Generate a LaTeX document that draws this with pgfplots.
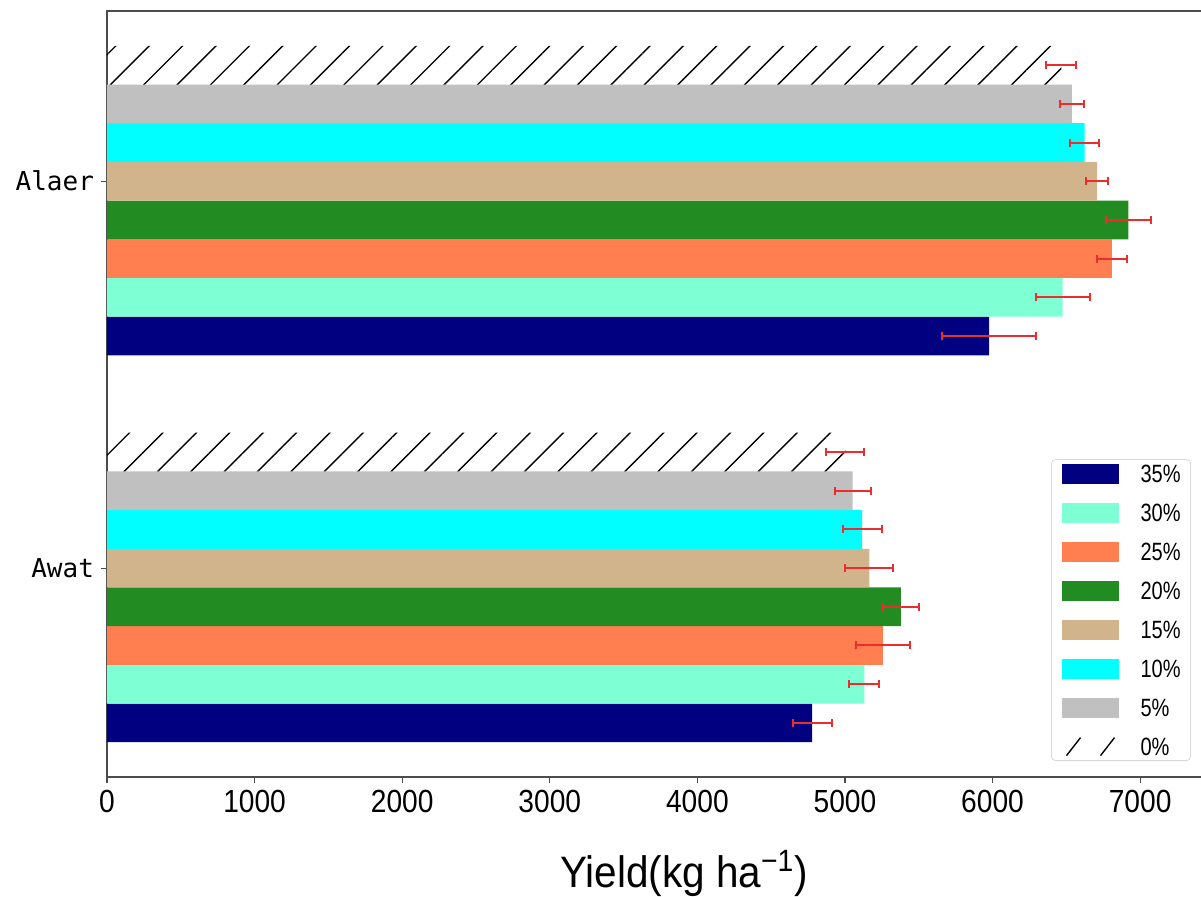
\documentclass[border=0pt]{standalone}
\usepackage{pgfplots}
\pgfplotsset{compat=1.18}
\usepackage{fontspec}
\setmainfont{Liberation Sans}
\newfontfamily\narrowfont{Liberation Sans}[FakeStretch=0.88]
\newfontfamily\legfont{Liberation Sans}[FakeStretch=0.8]
\newfontfamily\labfont{Liberation Sans}[FakeStretch=0.92]
\newfontfamily\monofont{DejaVu Sans Mono}
\usetikzlibrary{patterns.meta}
\definecolor{cnavy}{RGB}{0,0,128}
\definecolor{caqua}{RGB}{127,255,212}
\definecolor{ccoral}{RGB}{255,127,80}
\definecolor{cgreen}{RGB}{34,139,34}
\definecolor{ctan}{RGB}{210,180,140}
\definecolor{ccyan}{RGB}{0,255,255}
\definecolor{csilver}{RGB}{192,192,192}
\definecolor{cerr}{RGB}{235,45,45}
\pgfplotsset{
  mybar/.style={draw=none, fill=#1,
    error bars/x dir=both, error bars/x explicit,
    error bars/error mark=|,
    error bars/error bar style={draw=cerr, line width=1pt},
    error bars/error mark options={draw=cerr, line width=1pt, mark size=2pt}},
}
\begin{document}
\begin{tikzpicture}
\begin{axis}[name=ax,
  scale only axis, width=548pt, height=383pt,
  xmin=0, xmax=7426, ymin=-0.54, ymax=1.44,
  xbar, bar shift=0pt, bar width=0.1,
  ytick={0,1}, yticklabels={Awat,Alaer},
  xtick={0,1000,...,7000},
  scaled x ticks=false,
  tick pos=left, tick align=outside, major tick length=3pt,
  axis line style={black!70, line width=0.8pt},
  tick style={black!70, line width=0.6pt},
  /pgf/number format/assume math mode=true,
  /pgf/number format/1000 sep={},
  x tick label style={font=\narrowfont\fontsize{16}{16}\selectfont},
  y tick label style={font=\monofont\fontsize{13}{13}\selectfont},
  xlabel={Yield(kg ha\textsuperscript{−1})},
  xlabel style={font=\labfont\fontsize{22}{22}\selectfont, at={(axis description cs:0.5265,-0.1436)}, anchor=base},
  legend image code/.code={\path[#1, sharp corners] (0pt,-5pt) rectangle (28.5pt,5pt);},
  legend style={at={(axis description cs:0.989,0.0209)}, anchor=south east,
    draw=black!15, rounded corners=2pt, fill=white, inner xsep=5pt, inner ysep=2pt,
    font=\legfont\fontsize{12.5}{12.5}\selectfont, row sep=9.5pt,
    nodes={inner sep=0pt, text height=9pt, text depth=0pt},
    /tikz/every odd column/.style={column sep=11pt}},
  legend cell align=left,
]
\addplot+[mybar=cnavy] coordinates {(4777,-0.4) +- (132,0) (5976,0.6) +- (320,0)};
\addplot+[mybar=caqua] coordinates {(5131,-0.3) +- (101,0) (6475,0.7) +- (183,0)};
\addplot+[mybar=ccoral] coordinates {(5257,-0.2) +- (181,0) (6808,0.8) +- (103,0)};
\addplot+[mybar=cgreen] coordinates {(5379,-0.1) +- (123,0) (6921,0.9) +- (151,0)};
\addplot+[mybar=ctan] coordinates {(5165,0) +- (162,0) (6709,1.0) +- (73,0)};
\addplot+[mybar=ccyan] coordinates {(5117,0.1) +- (131,0) (6624,1.1) +- (100,0)};
\addplot+[mybar=csilver] coordinates {(5052,0.2) +- (122,0) (6538,1.2) +- (82,0)};
\addplot+[mybar=white, fill=none, pattern={Lines[angle=45,distance=11.8pt,line width=0.7pt]}, pattern color=black, forget plot]
  coordinates {(5002,0.3) +- (130,0) (6466,1.3) +- (101,0)};
\addlegendimage{legend image code/.code={\path[draw=none, fill=none] (0pt,-5pt) rectangle (28.5pt,5pt); \draw[black, line width=0.7pt, sharp corners] (2.5pt,-4.5pt) -- (9.5pt,4.5pt) (19.5pt,-4.5pt) -- (26.5pt,4.5pt);}}
\legend{35\%,30\%,25\%,20\%,15\%,10\%,5\%,0\%}
\end{axis}
\pgfresetboundingbox
\path[use as bounding box] ([xshift=-53.5pt,yshift=-59.5pt]ax.south west) rectangle ([xshift=-1pt,yshift=5.5pt]ax.north east);
\end{tikzpicture}
\end{document}
